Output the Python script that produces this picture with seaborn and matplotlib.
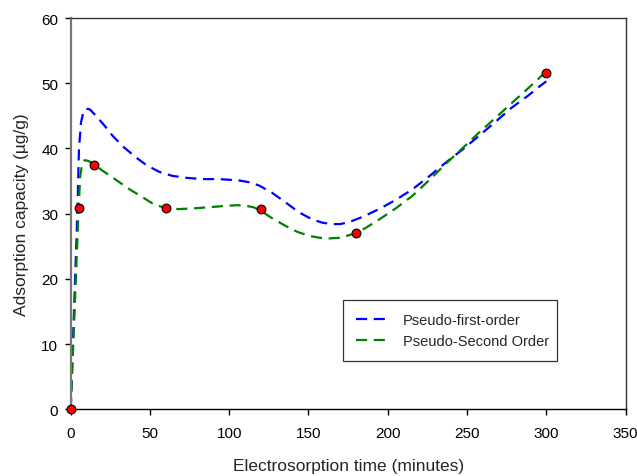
import matplotlib
matplotlib.use("Agg")
import matplotlib.pyplot as plt
import seaborn as sns

# measured points
time_min = [0, 5, 15, 60, 120, 180, 300]
capacity = [0, 30.8, 37.4, 30.8, 30.7, 27.0, 51.6]

# fitted curves
pfo_t = [0, 2, 4.2, 5.2, 6.5, 8, 9.9, 12, 16, 21, 26.6, 33, 41.3, 48, 56, 64, 72.8, 83, 93.8,
         106, 113, 119, 127, 135.7, 144, 152.5, 159, 165, 170, 175.6, 184, 194.5, 205, 215.4,
         226, 236.4, 247, 257.4, 268, 278.4, 288, 296.2, 300]
pfo_q = [0, 14.5, 30.2, 39.9, 44.0, 45.6, 46.1, 46.0, 45.0, 43.6, 41.9, 40.3, 38.6, 37.4, 36.4,
         35.8, 35.5, 35.3, 35.3, 35.1, 34.8, 34.3, 33.2, 31.7, 30.2, 29.1, 28.6, 28.4, 28.4,
         28.7, 29.5, 30.7, 32.1, 33.7, 35.7, 37.8, 39.8, 41.9, 44.1, 46.3, 48.0, 49.6, 50.3]
pso_t = [0, 2.5, 5, 6, 7.2, 8.8, 11, 14, 20, 25, 30.8, 38, 45.5, 52, 59.2, 68, 77, 88, 98,
         105, 110.6, 115, 119, 127, 135.7, 143, 150.4, 157, 163, 170, 178.3, 186, 194.5, 205,
         215.4, 226, 236.4, 247, 257.4, 268, 278.4, 288, 297.3, 300]
pso_q = [0, 15.4, 30.8, 35.8, 37.6, 38.2, 38.1, 37.7, 36.6, 35.8, 34.8, 33.6, 32.5, 31.5,
         30.9, 30.7, 30.8, 31.0, 31.2, 31.3, 31.2, 31.0, 30.6, 29.3, 28.1, 27.2, 26.6, 26.3,
         26.2, 26.3, 26.9, 27.8, 29.1, 30.8, 32.7, 35.1, 37.6, 40.0, 42.4, 44.7, 47.0, 49.1,
         51.2, 51.7]

sns.set_style("white")
plt.rcParams['font.family'] = ['Liberation Sans', 'DejaVu Sans']

fig = plt.figure(figsize=(6.37, 4.77), dpi=100)
ax = fig.add_axes([0.111, 0.140, 0.871, 0.820])

sns.lineplot(x=pfo_t, y=pfo_q, ax=ax, color='#0000ff', linestyle=(0, (5, 3)),
             linewidth=1.6, sort=False, label='Pseudo-first-order')
sns.lineplot(x=pso_t, y=pso_q, ax=ax, color='#008000', linestyle=(0, (5, 3)),
             linewidth=1.6, sort=False, label='Pseudo-Second Order')
sns.scatterplot(x=time_min, y=capacity, ax=ax, color='red', edgecolor='black',
                linewidth=0.8, s=40, zorder=5, clip_on=False)

ax.set_xlim(0, 350)
ax.set_ylim(0, 60)
ax.set_xticks(range(0, 351, 50))
ax.set_yticks(range(0, 61, 10))
ax.tick_params(direction='out', length=4, width=1, labelsize=11, colors='black',
               bottom=True, left=True)
ax.tick_params(axis='x', pad=8)
ax.tick_params(axis='y', pad=5)
for s in ax.spines.values():
    s.set_linewidth(1)
    s.set_color('#333333')
ax.spines['left'].set_color('#777777')
ax.spines['left'].set_linewidth(1.6)
ax.spines['bottom'].set_color('black')

ax.set_xlabel('Electrosorption time (minutes)', fontsize=12.5, labelpad=13)
ax.set_ylabel('Adsorption capacity (\u00b5g/g)', fontsize=12.5, labelpad=9)

leg = ax.legend(loc='center', bbox_to_anchor=(0.478, 0.123, 0.412, 0.156), mode='expand',
                fontsize=10.5, frameon=True, fancybox=False, edgecolor='black',
                handlelength=2.4, borderpad=0.9)
leg.get_frame().set_linewidth(0.9)

fig.savefig('out.png', dpi=100)
